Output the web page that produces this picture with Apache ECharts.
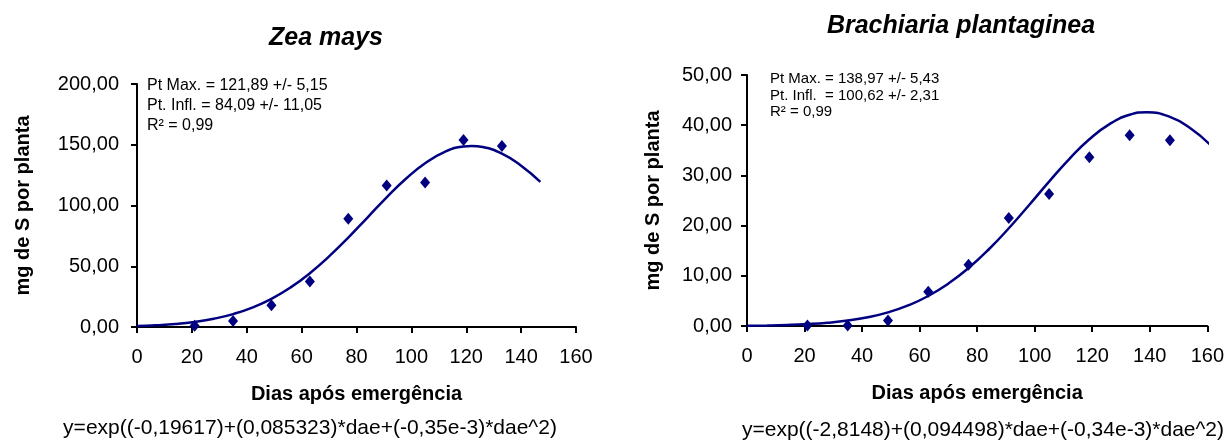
<!DOCTYPE html>
<html>
<head>
<meta charset="utf-8">
<script src="https://cdn.jsdelivr.net/npm/echarts@6/dist/echarts.min.js"></script>
<style>
  html, body { margin: 0; padding: 0; background: #ffffff; }
  #chart { width: 1227px; height: 441px; }
</style>
</head>
<body>
<div id="chart"></div>
<script>
// Observed sulfur content (mg per plant) by days after emergence
const zeaDays = [21, 35, 49, 63, 77, 91, 105, 119, 133];
const zeaObserved = [1.0, 5.0, 18.0, 37.5, 89.0, 116.5, 119.0, 154.0, 149.0];

const brachDays = [21, 35, 49, 63, 77, 91, 105, 119, 133, 147];
const brachObserved = [0.1, 0.1, 1.1, 6.8, 12.2, 21.5, 26.3, 33.6, 38.0, 37.0];

// Fitted curves, sampled weekly plus the maximum point
const zeaCurveDays = [0, 7, 14, 21, 28, 35, 42, 49, 56, 63, 70, 77, 84, 91, 98, 105, 112, 119, 122, 126, 133, 140, 147];
const zeaCurve = [0.8, 1.5, 2.5, 4.2, 6.8, 10.6, 16.0, 23.2, 32.6, 44.3, 58.1, 73.6, 90.1, 106.7, 122.0, 134.8, 144.0, 148.6, 149.0, 148.1, 142.7, 132.8, 119.5];

const brachCurveDays = [0, 7, 14, 21, 28, 35, 42, 49, 56, 63, 70, 77, 84, 91, 98, 105, 112, 119, 126, 133, 139, 147, 154, 161];
const brachCurve = [0.06, 0.11, 0.21, 0.38, 0.65, 1.08, 1.74, 2.72, 4.10, 5.98, 8.45, 11.54, 15.24, 19.47, 24.06, 28.76, 33.25, 37.19, 40.21, 42.07, 42.58, 41.66, 39.43, 36.10];

// Text
const titles = ['Zea mays', 'Brachiaria plantaginea'];
const yName = 'mg de S por planta';
const xName = 'Dias após emergência';
const zeaNotes = ['Pt Max. = 121,89 +/- 5,15', 'Pt. Infl. = 84,09 +/- 11,05', 'R² = 0,99'];
const brachNotes = ['Pt Max. = 138,97 +/- 5,43', 'Pt. Infl.  = 100,62 +/- 2,31', 'R² = 0,99'];
const zeaEquation = 'y=exp((-0,19617)+(0,085323)*dae+(-0,35e-3)*dae^2)';
const brachEquation = 'y=exp((-2,8148)+(0,094498)*dae+(-0,34e-3)*dae^2)';

const FONT = '"Liberation Sans", Arial, Helvetica, sans-serif';
const NAVY = '#000080';

const pairs = (xs, ys) => xs.map((x, i) => [x, ys[i]]);
const fmt2 = v => v.toFixed(2).replace('.', ',');

function xAxisFor(gridIndex) {
  return {
    gridIndex, type: 'value', min: 0, max: 160, interval: 20,
    name: xName, nameLocation: 'middle', nameGap: 57,
    nameTextStyle: { fontFamily: FONT, fontSize: 20, fontWeight: 'bold', color: '#000' },
    axisLine: { show: true, onZero: false, lineStyle: { color: '#000', width: 2 } },
    axisTick: { show: true, inside: false, length: 6, lineStyle: { color: '#000', width: 2 } },
    axisLabel: { fontFamily: FONT, fontSize: 20, color: '#000', margin: 20 },
    splitLine: { show: false }
  };
}
function yAxisFor(gridIndex, max, interval, gap, margin) {
  return {
    gridIndex, type: 'value', min: 0, max, interval,
    name: yName, nameLocation: 'middle', nameGap: gap,
    nameTextStyle: { fontFamily: FONT, fontSize: 20, fontWeight: 'bold', color: '#000' },
    axisLine: { show: true, lineStyle: { color: '#000', width: 2 } },
    axisTick: { show: true, inside: false, length: 6, lineStyle: { color: '#000', width: 2 } },
    axisLabel: { fontFamily: FONT, fontSize: 20, color: '#000', margin, formatter: fmt2 },
    splitLine: { show: false }
  };
}
function notes(lines, left, top, size, lh) {
  return {
    type: 'text', left, top,
    style: { text: lines.join('\n'), font: size + 'px ' + FONT, fill: '#000', lineHeight: lh }
  };
}
function equation(text, cx, cy) {
  return {
    type: 'text', x: cx, y: cy,
    style: { text, font: '21px ' + FONT, fill: '#000', align: 'center', verticalAlign: 'middle' }
  };
}

const chart = echarts.init(document.getElementById('chart'), null, { renderer: 'canvas' });
chart.setOption({
  animation: false,
  backgroundColor: '#ffffff',
  title: [
    { text: titles[0], left: 321, top: 21, textAlign: 'center',
      textStyle: { fontFamily: FONT, fontSize: 25, fontWeight: 'bold', fontStyle: 'italic', color: '#000' } },
    { text: titles[1], left: 956, top: 9, textAlign: 'center',
      textStyle: { fontFamily: FONT, fontSize: 25, fontWeight: 'bold', fontStyle: 'italic', color: '#000' } }
  ],
  grid: [
    { left: 137, top: 84, width: 439, height: 243 },
    { left: 747, top: 75, width: 461, height: 251 }
  ],
  xAxis: [xAxisFor(0), xAxisFor(1)],
  yAxis: [yAxisFor(0, 200, 50, 104, 18), yAxisFor(1, 50, 10, 84, 15)],
  series: [
    { type: 'line', xAxisIndex: 0, yAxisIndex: 0, data: pairs(zeaCurveDays, zeaCurve),
      smooth: true, showSymbol: false, lineStyle: { color: NAVY, width: 2.5 }, z: 2 },
    { type: 'scatter', xAxisIndex: 0, yAxisIndex: 0, data: pairs(zeaDays, zeaObserved),
      symbol: 'diamond', symbolSize: [10, 12], itemStyle: { color: NAVY, opacity: 1 }, z: 3 },
    { type: 'line', xAxisIndex: 1, yAxisIndex: 1, data: pairs(brachCurveDays, brachCurve),
      smooth: true, showSymbol: false, lineStyle: { color: NAVY, width: 2.5 }, z: 2 },
    { type: 'scatter', xAxisIndex: 1, yAxisIndex: 1, data: pairs(brachDays, brachObserved),
      symbol: 'diamond', symbolSize: [10, 12], itemStyle: { color: NAVY, opacity: 1 }, z: 3 }
  ],
  graphic: [
    notes(zeaNotes, 147, 76, 16, 20),
    notes(brachNotes, 770, 71, 15, 16.5),
    equation(zeaEquation, 310, 428),
    equation(brachEquation, 983, 430)
  ]
});
</script>
</body>
</html>
